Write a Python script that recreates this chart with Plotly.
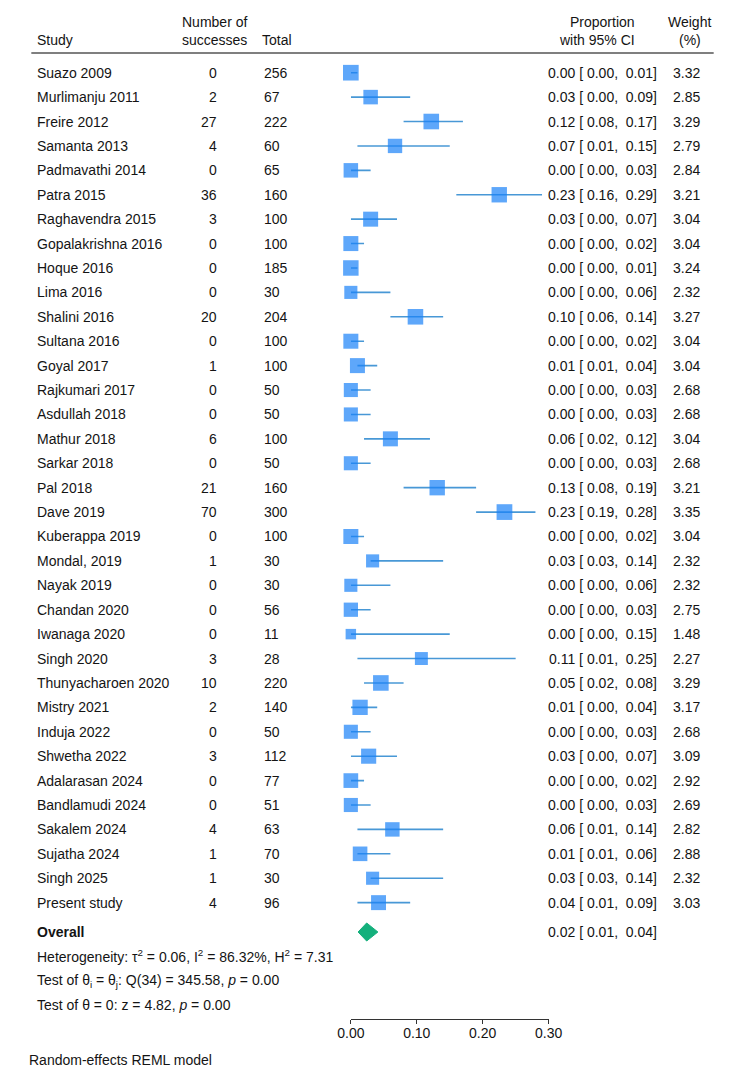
import math
import plotly.graph_objects as go

# ---------------- data ----------------
studies = ["Suazo 2009", "Murlimanju 2011", "Freire 2012", "Samanta 2013", "Padmavathi 2014",
           "Patra 2015", "Raghavendra 2015", "Gopalakrishna 2016", "Hoque 2016", "Lima 2016",
           "Shalini 2016", "Sultana 2016", "Goyal 2017", "Rajkumari 2017", "Asdullah 2018",
           "Mathur 2018", "Sarkar 2018", "Pal 2018", "Dave 2019", "Kuberappa 2019",
           "Mondal, 2019", "Nayak 2019", "Chandan 2020", "Iwanaga 2020", "Singh 2020",
           "Thunyacharoen 2020", "Mistry 2021", "Induja 2022", "Shwetha 2022", "Adalarasan 2024",
           "Bandlamudi 2024", "Sakalem 2024", "Sujatha 2024", "Singh 2025", "Present study"]
successes = [0, 2, 27, 4, 0, 36, 3, 0, 0, 0, 20, 0, 1, 0, 0, 6, 0, 21, 70, 0,
             1, 0, 0, 0, 3, 10, 2, 0, 3, 0, 0, 4, 1, 1, 4]
totals = [256, 67, 222, 60, 65, 160, 100, 100, 185, 30, 204, 100, 100, 50, 50, 100, 50, 160, 300, 100,
          30, 30, 56, 11, 28, 220, 140, 50, 112, 77, 51, 63, 70, 30, 96]
proportion = [0.000, 0.030, 0.122, 0.067, 0.000, 0.2251, 0.030, 0.000, 0.000, 0.000,
              0.098, 0.000, 0.010, 0.000, 0.000, 0.060, 0.000, 0.131, 0.233, 0.000,
              0.033, 0.000, 0.000, 0.000, 0.107, 0.0455, 0.014, 0.000, 0.027, 0.000,
              0.000, 0.063, 0.014, 0.033, 0.042]
ci_lower = [0.00, 0.00, 0.08, 0.01, 0.00, 0.16, 0.00, 0.00, 0.00, 0.00,
            0.06, 0.00, 0.01, 0.00, 0.00, 0.02, 0.00, 0.08, 0.19, 0.00,
            0.03, 0.00, 0.00, 0.00, 0.01, 0.02, 0.00, 0.00, 0.00, 0.00,
            0.00, 0.01, 0.01, 0.03, 0.01]
ci_upper = [0.01, 0.09, 0.17, 0.15, 0.03, 0.29, 0.07, 0.02, 0.01, 0.06,
            0.14, 0.02, 0.04, 0.03, 0.03, 0.12, 0.03, 0.19, 0.28, 0.02,
            0.14, 0.06, 0.03, 0.15, 0.25, 0.08, 0.04, 0.03, 0.07, 0.02,
            0.03, 0.14, 0.06, 0.14, 0.09]
weights = [3.32, 2.85, 3.29, 2.79, 2.84, 3.21, 3.04, 3.04, 3.24, 2.32,
           3.27, 3.04, 3.04, 2.68, 2.68, 3.04, 2.68, 3.21, 3.35, 3.04,
           2.32, 2.32, 2.75, 1.48, 2.27, 3.29, 3.17, 2.68, 3.09, 2.92,
           2.69, 2.82, 2.88, 2.32, 3.03]
overall_est, overall_lower, overall_upper = 0.024, 0.011, 0.041
x_ticks = [0.0, 0.1, 0.2, 0.3]
x_tick_labels = ["0.00", "0.10", "0.20", "0.30"]
heterogeneity_txt = "Heterogeneity: τ<sup>2</sup> = 0.06, I<sup>2</sup> = 86.32%, H<sup>2</sup> = 7.31"
test_homog_txt = "Test of θ<sub>i</sub> = θ<sub>j</sub>: Q(34) = 345.58, <i>p</i> = 0.00"
test_zero_txt = "Test of θ = 0: z = 4.82, <i>p</i> = 0.00"
model_txt = "Random-effects REML model"

# ---------------- layout helpers ----------------
W, H = 745, 1079
ROW0_PX, ROW_PX = 72.7, 24.41          # pixel y of first row, row spacing


def px_to_row(py):
    return (py - ROW0_PX) / ROW_PX


def xp(px):
    return px / W


FONT = "Liberation Sans, Arial, sans-serif"
TXT = "#141414"
BLUE = "#1a82f8"
CI_COL = "#4898d6"
GREEN = "#14b07c"

n = len(studies)
rows = list(range(n))
overall_row = px_to_row(932)

fig = go.Figure()

# CI lines
cx, cy = [], []
for i in rows:
    cx += [ci_lower[i], ci_upper[i], None]
    cy += [i, i, None]
fig.add_trace(go.Scatter(x=cx, y=cy, mode="lines", line=dict(color=CI_COL, width=1.6),
                         hoverinfo="skip", showlegend=False, cliponaxis=False))

# study squares (area proportional to weight)
fig.add_trace(go.Scatter(x=proportion, y=rows, mode="markers",
                         marker=dict(symbol="square", color=BLUE,
                                     size=[8.6 * math.sqrt(w) for w in weights],
                                     line=dict(width=0)),
                         showlegend=False, cliponaxis=False))

# overall diamond
dh = 0.37
fig.add_trace(go.Scatter(x=[overall_lower, overall_est, overall_upper, overall_est, overall_lower],
                         y=[overall_row, overall_row - dh, overall_row, overall_row + dh, overall_row],
                         mode="lines", fill="toself", fillcolor=GREEN,
                         line=dict(color=GREEN, width=1), showlegend=False, cliponaxis=False))

ann = []


def add_text(text, px, row, anchor, bold=False, size=14):
    ann.append(dict(text=f"<b>{text}</b>" if bold else text, x=xp(px), y=row,
                    xref="paper", yref="y", xanchor=anchor, yanchor="middle",
                    showarrow=False, font=dict(family=FONT, size=size, color=TXT)))


# headers
add_text("Number of", 208, px_to_row(22), "center")
add_text("Proportion", 647, px_to_row(22), "right")
add_text("Weight", 702, px_to_row(22), "center")
add_text("Study", 22, px_to_row(40), "left")
add_text("successes", 208, px_to_row(40), "center")
add_text("Total", 256, px_to_row(40), "left")
add_text("with 95% CI", 647, px_to_row(40), "right")
add_text("(%)", 702, px_to_row(40), "center")

# rows
for i in rows:
    add_text(studies[i], 22, i, "left")
    add_text(str(successes[i]), 213, i, "right")
    add_text(str(totals[i]), 258, i, "left")
    add_text(f"{proportion[i]:.2f} [ {ci_lower[i]:.2f},  {ci_upper[i]:.2f}]", 670, i, "right")
    add_text(f"{weights[i]:.2f}", 715, i, "right")

add_text("Overall", 22, overall_row, "left", bold=True)
add_text(f"{overall_est:.2f} [ {overall_lower:.2f},  {overall_upper:.2f}]", 670, overall_row, "right")
add_text(heterogeneity_txt, 22, overall_row + 1, "left")
add_text(test_homog_txt, 22, overall_row + 2, "left")
add_text(test_zero_txt, 22, overall_row + 3, "left")
add_text(model_txt, 14, px_to_row(1060), "left")

fig.update_layout(
    width=W, height=H, margin=dict(l=0, r=0, t=0, b=0),
    paper_bgcolor="white", plot_bgcolor="white",
    font=dict(family=FONT, size=14, color=TXT),
    annotations=ann,
    shapes=[dict(type="line", xref="paper", yref="y", x0=xp(18), x1=xp(727),
                 y0=px_to_row(53), y1=px_to_row(53), line=dict(color="#555555", width=1.6))],
    xaxis=dict(domain=[xp(350), xp(555.5)], range=[0, 0.3], anchor="free",
               position=1 - 1019 / H, showline=True, linecolor="#333333", linewidth=1,
               ticks="outside", ticklen=4, tickcolor="#333333", tickwidth=1,
               ticklabelstandoff=-3,
               tickvals=x_ticks, ticktext=x_tick_labels, showgrid=False, zeroline=False,
               tickfont=dict(family=FONT, size=14, color=TXT), fixedrange=True),
    yaxis=dict(domain=[0, 1], range=[px_to_row(H), px_to_row(0)], visible=False,
               showgrid=False, zeroline=False, fixedrange=True),
    showlegend=False,
)

fig.write_html("out.html")
